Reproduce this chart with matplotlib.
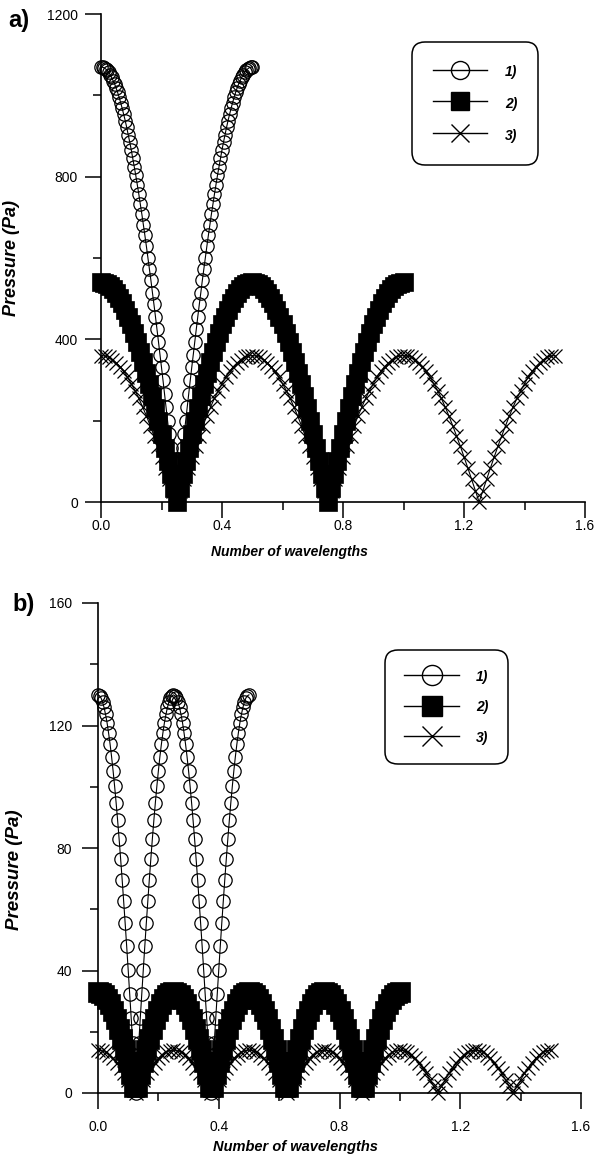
import numpy as np
import matplotlib.pyplot as plt
from matplotlib.lines import Line2D
from matplotlib.ticker import MultipleLocator

plt.rcParams['font.family'] = ['Liberation Sans', 'DejaVu Sans']

# ---- panel a) pressure along the tube (Pa) ----
a1_end = 0.5
a1_p = [1070, 1069, 1068, 1065, 1062, 1057, 1051, 1044, 1036, 1028,
        1018, 1007, 995, 982, 968, 953, 938, 921, 903, 885,
        866, 845, 824, 803, 780, 757, 732, 708, 682, 656,
        629, 601, 573, 545, 515, 486, 456, 425, 394, 362,
        331, 299, 266, 233, 200, 167, 134, 101, 67, 34,
        0,
        34, 67, 101, 134, 167, 200, 233, 266, 299, 331,
        362, 394, 425, 456, 486, 515, 545, 573, 601, 629,
        656, 682, 708, 732, 757, 780, 803, 824, 845, 866,
        885, 903, 921, 938, 953, 968, 982, 995, 1007, 1018,
        1028, 1036, 1044, 1051, 1057, 1062, 1065, 1068, 1069, 1070]

a2_end = 1.0
a2_p = [540, 539, 536, 530, 523, 514, 502, 489, 473, 456,
        437, 416, 394, 370, 344, 317, 289, 260, 230, 199,
        167, 134, 101, 68, 34, 0,
        34, 68, 101, 134, 167, 199, 230, 260, 289, 317,
        344, 370, 394, 416, 437, 456, 473, 489, 502, 514,
        523, 530, 536, 539, 540,
        539, 536, 530, 523, 514, 502, 489, 473, 456, 437,
        416, 394, 370, 344, 317, 289, 260, 230, 199, 167,
        134, 101, 68, 34, 0,
        34, 68, 101, 134, 167, 199, 230, 260, 289, 317,
        344, 370, 394, 416, 437, 456, 473, 489, 502, 514,
        523, 530, 536, 539, 540]

a3_end = 1.5
a3_p = [360, 359, 356, 350, 342, 333, 321, 307, 291, 274,
        255, 234, 212, 188, 163, 138, 111, 84, 56, 28, 0,
        28, 56, 84, 111, 138, 163, 188, 212, 234, 255,
        274, 291, 307, 321, 333, 342, 350, 356, 359, 360,
        359, 356, 350, 342, 333, 321, 307, 291, 274, 255,
        234, 212, 188, 163, 138, 111, 84, 56, 28, 0,
        28, 56, 84, 111, 138, 163, 188, 212, 234, 255,
        274, 291, 307, 321, 333, 342, 350, 356, 359, 360,
        359, 356, 350, 342, 333, 321, 307, 291, 274, 255,
        234, 212, 188, 163, 138, 111, 84, 56, 28, 0,
        28, 56, 84, 111, 138, 163, 188, 212, 234, 255,
        274, 291, 307, 321, 333, 342, 350, 356, 359, 360]

# ---- panel b) ----
b1_end = 0.5
b1_p = [130.0, 129.7, 129.0, 127.7, 125.9, 123.6, 120.9, 117.6, 113.9, 109.8,
        105.2, 100.2, 94.8, 89.0, 82.9, 76.4, 69.7, 62.6, 55.4, 47.9,
        40.2, 32.3, 24.4, 16.3, 8.2, 0.0,
        8.2, 16.3, 24.4, 32.3, 40.2, 47.9, 55.4, 62.6, 69.7, 76.4,
        82.9, 89.0, 94.8, 100.2, 105.2, 109.8, 113.9, 117.6, 120.9, 123.6,
        125.9, 127.7, 129.0, 129.7, 130.0,
        129.7, 129.0, 127.7, 125.9, 123.6, 120.9, 117.6, 113.9, 109.8, 105.2,
        100.2, 94.8, 89.0, 82.9, 76.4, 69.7, 62.6, 55.4, 47.9, 40.2,
        32.3, 24.4, 16.3, 8.2, 0.0,
        8.2, 16.3, 24.4, 32.3, 40.2, 47.9, 55.4, 62.6, 69.7, 76.4,
        82.9, 89.0, 94.8, 100.2, 105.2, 109.8, 113.9, 117.6, 120.9, 123.6,
        125.9, 127.7, 129.0, 129.7, 130.0]

b2_end = 1.0
b2_p = [33.0, 32.7, 32.0, 30.7, 28.9, 26.7, 24.1, 21.0, 17.7, 14.1, 10.2, 6.2, 2.1,
        2.1, 6.2, 10.2, 14.1, 17.7, 21.0, 24.1, 26.7, 28.9, 30.7, 32.0, 32.7,
        33.0, 32.7, 32.0, 30.7, 28.9, 26.7, 24.1, 21.0, 17.7, 14.1, 10.2, 6.2, 2.1,
        2.1, 6.2, 10.2, 14.1, 17.7, 21.0, 24.1, 26.7, 28.9, 30.7, 32.0, 32.7,
        33.0, 32.7, 32.0, 30.7, 28.9, 26.7, 24.1, 21.0, 17.7, 14.1, 10.2, 6.2, 2.1,
        2.1, 6.2, 10.2, 14.1, 17.7, 21.0, 24.1, 26.7, 28.9, 30.7, 32.0, 32.7,
        33.0, 32.7, 32.0, 30.7, 28.9, 26.7, 24.1, 21.0, 17.7, 14.1, 10.2, 6.2, 2.1,
        2.1, 6.2, 10.2, 14.1, 17.7, 21.0, 24.1, 26.7, 28.9, 30.7, 32.0, 32.7,
        33.0]

b3_end = 1.5
b3_p = [14.0, 13.8, 13.3, 12.5, 11.3, 9.9, 8.2, 6.4, 4.3, 2.2, 0.0,
        2.2, 4.3, 6.4, 8.2, 9.9, 11.3, 12.5, 13.3, 13.8,
        14.0, 13.8, 13.3, 12.5, 11.3, 9.9, 8.2, 6.4, 4.3, 2.2, 0.0,
        2.2, 4.3, 6.4, 8.2, 9.9, 11.3, 12.5, 13.3, 13.8,
        14.0, 13.8, 13.3, 12.5, 11.3, 9.9, 8.2, 6.4, 4.3, 2.2, 0.0,
        2.2, 4.3, 6.4, 8.2, 9.9, 11.3, 12.5, 13.3, 13.8,
        14.0, 13.8, 13.3, 12.5, 11.3, 9.9, 8.2, 6.4, 4.3, 2.2, 0.0,
        2.2, 4.3, 6.4, 8.2, 9.9, 11.3, 12.5, 13.3, 13.8,
        14.0, 13.8, 13.3, 12.5, 11.3, 9.9, 8.2, 6.4, 4.3, 2.2, 0.0,
        2.2, 4.3, 6.4, 8.2, 9.9, 11.3, 12.5, 13.3, 13.8,
        14.0, 13.8, 13.3, 12.5, 11.3, 9.9, 8.2, 6.4, 4.3, 2.2, 0.0,
        2.2, 4.3, 6.4, 8.2, 9.9, 11.3, 12.5, 13.3, 13.8,
        14.0]

legend_labels = ['1)', '2)', '3)']

W, H = 598, 1155
fig = plt.figure(figsize=(W / 100, H / 100), dpi=100)


def px_axes(left, top, right, bottom):
    # axes rectangle given in pixel edges
    return fig.add_axes([left / W, 1 - bottom / H, (right - left) / W, (bottom - top) / H])


def plot_series(ax, end1, p1, end2, p2, end3, p3, square_size):
    x1 = np.linspace(0, end1, len(p1))
    x2 = np.linspace(0, end2, len(p2))
    x3 = np.linspace(0, end3, len(p3))
    ax.plot(x1, p1, color='k', lw=0.8, marker='o', ms=9.6, mfc='none', mec='k',
            mew=0.9, clip_on=False, zorder=3)
    ax.plot(x2, p2, color='k', lw=0.8, marker='s', ms=square_size, mfc='k', mec='k',
            mew=0.5, clip_on=False, zorder=2)
    ax.plot(x3, p3, color='k', lw=0.8, marker='x', ms=9.5, mec='k',
            mew=0.9, clip_on=False, zorder=4)


def style_axes(ax, ymax, ystep, xpad, ypad):
    for side in ['top', 'right']:
        ax.spines[side].set_visible(False)
    for side in ['left', 'bottom']:
        ax.spines[side].set_linewidth(1.2)
    ax.set_xlim(0, 1.6)
    ax.set_ylim(0, ymax)
    ax.xaxis.set_major_locator(MultipleLocator(0.4))
    ax.xaxis.set_minor_locator(MultipleLocator(0.2))
    ax.yaxis.set_major_locator(MultipleLocator(ystep))
    ax.yaxis.set_minor_locator(MultipleLocator(ystep / 2))
    ax.xaxis.set_major_formatter(plt.FuncFormatter(lambda v, _: f'{v:.1f}'))
    ax.yaxis.set_major_formatter(plt.FuncFormatter(lambda v, _: f'{v:.0f}'))
    ax.tick_params(which='major', direction='out', length=11.5, width=1.1, labelsize=10)
    ax.tick_params(which='minor', direction='out', length=5.8, width=1.1)
    ax.tick_params(axis='x', which='major', pad=xpad)
    ax.tick_params(axis='y', which='major', pad=ypad)


def add_legend(ax, left, top, msize, spacing, hheight, textpad, bpad):
    handles = [
        Line2D([], [], color='k', lw=1, marker='o', ms=msize, mfc='none', mew=1),
        Line2D([], [], color='k', lw=1, marker='s', ms=msize, mfc='k'),
        Line2D([], [], color='k', lw=1, marker='x', ms=msize, mew=1),
    ]
    leg = ax.legend(handles, legend_labels, loc='upper left',
                    bbox_to_anchor=(left / W, 1 - top / H), bbox_transform=fig.transFigure,
                    frameon=True, fancybox=True, handlelength=3.9, handleheight=hheight,
                    handletextpad=textpad, labelspacing=spacing, borderpad=bpad,
                    borderaxespad=0,
                    prop={'weight': 'bold', 'style': 'italic', 'size': 10})
    frame = leg.get_frame()
    frame.set_edgecolor('k')
    frame.set_linewidth(1.1)
    frame.set_alpha(1)
    frame.set_boxstyle('round,pad=0,rounding_size=0.9')


def bold_italic(size):
    return dict(fontweight='bold', fontstyle='italic', fontsize=size)


# panel a
ax_a = px_axes(101, 14, 585, 502)
plot_series(ax_a, a1_end, a1_p, a2_end, a2_p, a3_end, a3_p, square_size=12.3)
style_axes(ax_a, 1200, 400, xpad=1, ypad=5)
ax_a.set_ylabel('Pressure (Pa)', **bold_italic(13))
ax_a.yaxis.set_label_coords(-0.167, 0.5)
ax_a.set_xlabel('Number of wavelengths', **bold_italic(10))
ax_a.xaxis.set_label_coords(0.39, -0.088)
add_legend(ax_a, 412, 42, msize=13, spacing=1.0, hheight=1.6, textpad=1.3, bpad=1.5)
fig.text(8 / W, 1 - 20 / H, 'a)', fontsize=17, fontweight='bold', va='center', ha='left')

# panel b
ax_b = px_axes(98, 603, 581, 1093)
plot_series(ax_b, b1_end, b1_p, b2_end, b2_p, b3_end, b3_p, square_size=15)
style_axes(ax_b, 160, 40, xpad=8, ypad=7)
ax_b.set_ylabel('Pressure (Pa)', **bold_italic(13.5))
ax_b.yaxis.set_label_coords(-0.155, 0.455)
ax_b.set_xlabel('Number of wavelengths', **bold_italic(10.5))
ax_b.xaxis.set_label_coords(0.408, -0.096)
add_legend(ax_b, 385, 650, msize=14.5, spacing=1.15, hheight=1.1, textpad=1.25, bpad=1.4)
fig.text(12 / W, 1 - 605 / H, 'b)', fontsize=17, fontweight='bold', va='center', ha='left')

fig.savefig('out.png', dpi=100)
